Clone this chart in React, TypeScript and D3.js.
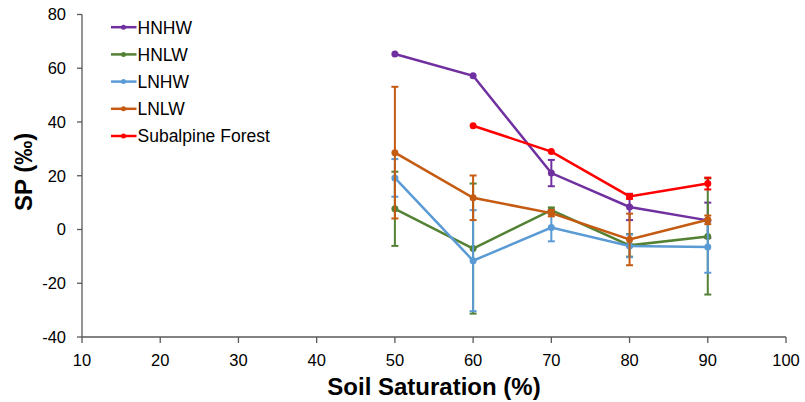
import React from "react";
import * as d3 from "d3";

const saturation = [50, 60, 70, 80, 90];
const seriesNames = ["HNHW", "HNLW", "LNHW", "LNLW", "Subalpine Forest"];
const seriesColors = ["#7030A0", "#548235", "#5B9BD5", "#C55A11", "#FF0000"];

const hnhw = [65.3, 57.2, 21, 8.4, 3.4];
const hnlw = [7.7, -7.1, 7.2, -5.9, -2.6];
const lnhw = [19.2, -11.6, 0.7, -6.1, -6.5];
const lnlw = [28.6, 11.8, 6.1, -3.7, 3.6];
const subalpine: (number | null)[] = [null, 38.6, 29, 12.3, 17.1];

const hnhwErr = [0, 0, 4.9, 4.9, 6.6];
const hnlwErr = [13.8, 24.2, 1, 4.2, 21.6];
const lnhwErr = [7, 18.8, 5.1, 4.2, 9.6];
const lnlwErr = [24.5, 8.3, 1.2, 9.6, 1.6];
const subalpineErr = [0, 0, 0, 0.9, 2.2];

const xTicks = [10, 20, 30, 40, 50, 60, 70, 80, 90, 100];
const yTicks = [-40, -20, 0, 20, 40, 60, 80];

const W = 805;
const H = 402;
const left = 82;
const right = 786;
const top = 14.5;
const bottom = 337;
const font = "Arial, 'Liberation Sans', sans-serif";
const axisColor = "#595959";

export default function App() {
  const x = d3.scaleLinear().domain([10, 100]).range([left, right]);
  const y = d3.scaleLinear().domain([-40, 80]).range([bottom, top]);

  const values = [hnhw, hnlw, lnhw, lnlw, subalpine];
  const errors = [hnhwErr, hnlwErr, lnhwErr, lnlwErr, subalpineErr];

  const line = d3
    .line<[number, number | null]>()
    .defined((d) => d[1] !== null)
    .x((d) => x(d[0]))
    .y((d) => y(d[1] as number));

  return (
    <svg width={W} height={H} style={{ display: "block", position: "absolute", left: 0, top: 0 }}>
      <rect width={W} height={H} fill="#fff" />
      {/* axes */}
      <line x1={left} x2={left} y1={top} y2={bottom} stroke={axisColor} strokeWidth={1.3} />
      <line x1={left} x2={right} y1={bottom} y2={bottom} stroke={axisColor} strokeWidth={1.3} />
      {yTicks.map((t) => (
        <g key={"y" + t}>
          <line x1={left - 5} x2={left} y1={y(t)} y2={y(t)} stroke={axisColor} strokeWidth={1.3} />
          <text x={66} y={y(t)} dy="0.35em" textAnchor="end" fontFamily={font} fontSize={16.5} fill="#000">
            {t}
          </text>
        </g>
      ))}
      {xTicks.map((t) => (
        <g key={"x" + t}>
          <line x1={x(t)} x2={x(t)} y1={bottom} y2={bottom + 6} stroke={axisColor} strokeWidth={1.3} />
          <text x={x(t)} y={366} textAnchor="middle" fontFamily={font} fontSize={16.5} fill="#000">
            {t}
          </text>
        </g>
      ))}
      <text x={434} y={395} textAnchor="middle" fontFamily={font} fontSize={24} fontWeight="bold" fill="#000">
        Soil Saturation (%)
      </text>
      <text
        transform={`translate(32,172) rotate(-90)`}
        textAnchor="middle"
        fontFamily={font}
        fontSize={24}
        fontWeight="bold"
        fill="#000"
      >
        SP (‰)
      </text>

      {/* series */}
      {values.map((vals, si) => {
        const color = seriesColors[si];
        const pts = saturation.map((s, i) => [s, vals[i]] as [number, number | null]);
        return (
          <g key={seriesNames[si]}>
            {pts.map(([s, v], i) => {
              const e = errors[si][i];
              if (v === null || !e) return null;
              const cx = x(s);
              return (
                <g key={i} stroke={color} strokeWidth={2}>
                  <line x1={cx} x2={cx} y1={y(v + e)} y2={y(v - e)} />
                  <line x1={cx - 3.5} x2={cx + 3.5} y1={y(v + e)} y2={y(v + e)} />
                  <line x1={cx - 3.5} x2={cx + 3.5} y1={y(v - e)} y2={y(v - e)} />
                </g>
              );
            })}
            <path d={line(pts) || ""} fill="none" stroke={color} strokeWidth={2.5} />
            {pts.map(([s, v], i) =>
              v === null ? null : <circle key={i} cx={x(s)} cy={y(v)} r={3.5} fill={color} />
            )}
          </g>
        );
      })}

      {/* legend */}
      {seriesNames.map((n, i) => {
        const ly = 27.2 + i * 27.2;
        return (
          <g key={"lg" + n}>
            <line x1={111} x2={136.5} y1={ly} y2={ly} stroke={seriesColors[i]} strokeWidth={2.5} />
            <circle cx={123.5} cy={ly} r={2.5} fill={seriesColors[i]} />
            <text x={137.5} y={ly} dy="0.36em" fontFamily={font} fontSize={17.5} fill="#000">
              {n}
            </text>
          </g>
        );
      })}
    </svg>
  );
}
